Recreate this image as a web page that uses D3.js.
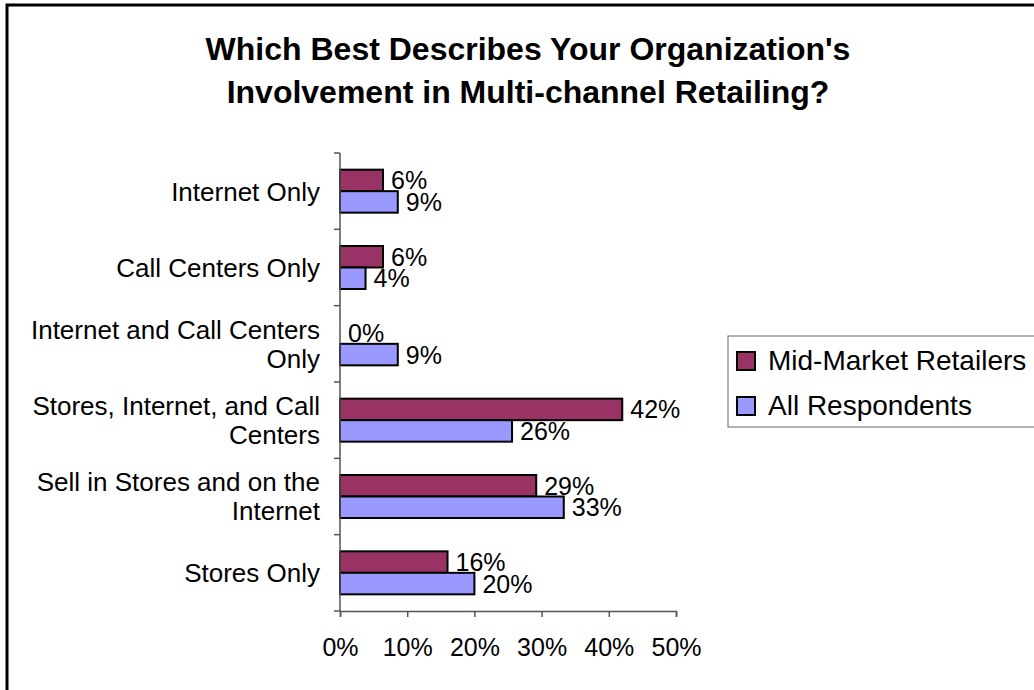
<!DOCTYPE html>
<html>
<head>
<meta charset="utf-8">
<script src="https://cdn.jsdelivr.net/npm/d3@7"></script>
<style>
  body { margin: 0; background: #fff; }
  svg { display: block; font-family: "Liberation Sans", Arial, sans-serif; }
</style>
</head>
<body>
<svg width="1034" height="690"></svg>
<script>
var categories = [
    ["Internet Only"],
    ["Call Centers Only"],
    ["Internet and Call Centers", "Only"],
    ["Stores, Internet, and Call", "Centers"],
    ["Sell in Stores and on the", "Internet"],
    ["Stores Only"]
];
var seriesNames = ["Mid-Market Retailers", "All Respondents"];
var seriesColors = ["#993366", "#9999ff"];
var midMarket = [6.4, 6.4, 0, 42, 29.2, 16];
var allRespondents = [8.6, 3.8, 8.6, 25.6, 33.3, 20];
var xTicks = [0, 10, 20, 30, 40, 50];
var midLabels = ["6%", "6%", "0%", "42%", "29%", "16%"];
var allLabels = ["9%", "4%", "9%", "26%", "33%", "20%"];

var svg = d3.select("svg");
var margin = {top: 153, left: 340, right: 358, bottom: 79};
var width = 1034 - margin.left - margin.right,
    height = 690 - margin.top - margin.bottom;

// outer frame (runs off the right and bottom edges)
svg.append("rect")
    .attr("x", 7).attr("y", 5)
    .attr("width", 1100).attr("height", 800)
    .attr("fill", "none").attr("stroke", "#000").attr("stroke-width", 3);

// title
var title = svg.append("text")
    .attr("text-anchor", "middle")
    .style("font-size", "32px")
    .style("font-weight", "bold");
title.append("tspan").attr("x", 528).attr("y", 60).text("Which Best Describes Your Organization's");
title.append("tspan").attr("x", 528).attr("y", 103).text("Involvement in Multi-channel Retailing?");

var g = svg.append("g").attr("transform", "translate(" + margin.left + "," + margin.top + ")");

var x = d3.scaleLinear().domain([0, 50]).range([0, width]);
var y0 = d3.scaleBand().domain(d3.range(categories.length)).range([0, height]).padding(0);
var y1 = d3.scaleBand().domain([0, 1]).range([0, y0.bandwidth()]).paddingInner(0).paddingOuter(0.775);

var rows = categories.map(function (c, i) {
    return {i: i, values: [
        {s: 0, v: midMarket[i], label: midLabels[i]},
        {s: 1, v: allRespondents[i], label: allLabels[i]}
    ]};
});

var group = g.selectAll(".cat")
    .data(rows)
    .enter().append("g")
    .attr("transform", function (d) { return "translate(0," + y0(d.i) + ")"; });

group.selectAll("rect")
    .data(function (d) { return d.values.filter(function (b) { return b.v > 0; }); })
    .enter().append("rect")
    .attr("x", 0)
    .attr("y", function (b) { return y1(b.s); })
    .attr("width", function (b) { return x(b.v); })
    .attr("height", y1.bandwidth())
    .attr("fill", function (b) { return seriesColors[b.s]; })
    .attr("stroke", "#000")
    .attr("stroke-width", 2);

group.selectAll(".val")
    .data(function (d) { return d.values; })
    .enter().append("text")
    .attr("x", function (b) { return x(b.v) + 8; })
    .attr("y", function (b) { return y1(b.s) + y1.bandwidth() / 2; })
    .attr("dy", "0.36em")
    .style("font-size", "25px")
    .text(function (b) { return b.label; });

// y axis with ticks at band edges
g.append("line")
    .attr("x1", 0).attr("x2", 0).attr("y1", 0).attr("y2", height)
    .attr("stroke", "#555").attr("stroke-width", 1.5);
g.selectAll(".ytick")
    .data(d3.range(categories.length + 1))
    .enter().append("line")
    .attr("x1", -6).attr("x2", 0)
    .attr("y1", function (i) { return i * y0.step(); })
    .attr("y2", function (i) { return i * y0.step(); })
    .attr("stroke", "#555").attr("stroke-width", 1.5);

// category labels
var catText = g.selectAll(".catlabel")
    .data(categories)
    .enter().append("text")
    .attr("text-anchor", "end")
    .style("font-size", "26px")
    .attr("transform", function (d, i) { return "translate(-20," + (y0(i) + y0.bandwidth() / 2) + ")"; });
catText.each(function (lines) {
    var t = d3.select(this);
    var lh = 29;
    lines.forEach(function (line, k) {
        t.append("tspan")
            .attr("x", 0)
            .attr("y", (k - (lines.length - 1) / 2) * lh)
            .attr("dy", "0.36em")
            .text(line);
    });
});

// x axis
var xAxis = d3.axisBottom(x)
    .tickValues(xTicks)
    .tickSize(6)
    .tickPadding(21)
    .tickFormat(function (d) { return d + "%"; });
var xa = g.append("g").attr("transform", "translate(0," + height + ")").call(xAxis);
xa.select(".domain").attr("stroke", "#555").attr("stroke-width", 1.5);
xa.selectAll(".tick line").attr("stroke", "#555").attr("stroke-width", 1.5);
xa.selectAll(".tick text")
    .attr("fill", "#000")
    .style("font-size", "25px")
    .style("font-family", "'Liberation Sans', Arial, sans-serif");

// legend
var legend = svg.append("g").attr("transform", "translate(728,336)");
legend.append("rect")
    .attr("x", 0).attr("y", 0).attr("width", 400).attr("height", 91)
    .attr("fill", "#fff").attr("stroke", "#666").attr("stroke-width", 1);
var item = legend.selectAll(".item")
    .data(seriesNames)
    .enter().append("g")
    .attr("transform", function (d, i) { return "translate(9," + (16 + i * 45) + ")"; });
item.append("rect")
    .attr("width", 18).attr("height", 18)
    .attr("fill", function (d, i) { return seriesColors[i]; })
    .attr("stroke", "#000").attr("stroke-width", 2);
item.append("text")
    .attr("x", 31).attr("y", 18)
    .style("font-size", "28px")
    .text(function (d) { return d; });
</script>
</body>
</html>
